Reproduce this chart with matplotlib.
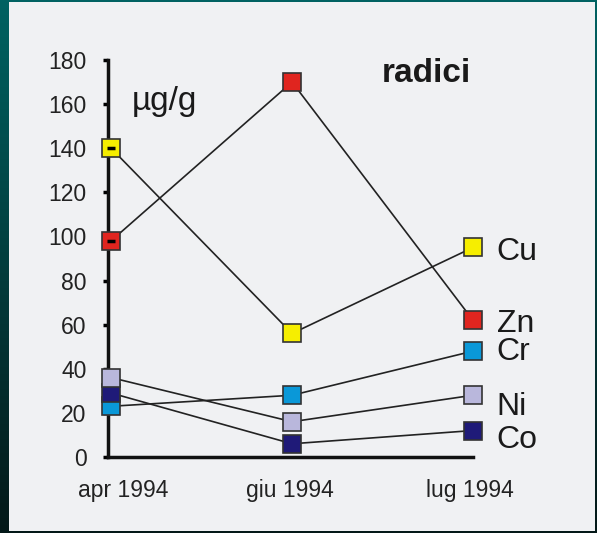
import numpy as np
import matplotlib
matplotlib.use("Agg")
import matplotlib.pyplot as plt
from matplotlib.patches import Rectangle

# data (µg/g)
months = ['apr 1994', 'giu 1994', 'lug 1994']
elements = ['Cu', 'Zn', 'Cr', 'Ni', 'Co']
cu = [140, 56, 95]
zn = [98, 170, 62]
cr = [23, 28, 48]
ni = [36, 16, 28]
co = [29, 6, 12]
colors = ['#f6ee00', '#e0251f', '#0a98d8', '#b9b7dc', '#1f1a78']
yticks = [0, 20, 40, 60, 80, 100, 120, 140, 160, 180]

plt.rcParams['font.family'] = ['Liberation Sans', 'DejaVu Sans']

#------------------------------------------------

fig = plt.figure(figsize=(5.97, 5.33), dpi=100)

# teal gradient frame + light panel
bg = fig.add_axes([0, 0, 1, 1], zorder=-10)
grad = np.linspace(0, 1, 256).reshape(-1, 1)
cmap = matplotlib.colors.LinearSegmentedColormap.from_list('frame', ['#006262', '#041818'])
bg.imshow(grad, cmap=cmap, aspect='auto', extent=[0, 1, 0, 1], origin='upper')
bg.add_patch(Rectangle((9 / 597, 2 / 533), 586 / 597, 529 / 533,
                       facecolor='#f0f1f3', edgecolor='none', transform=bg.transAxes))
bg.set_xlim(0, 1)
bg.set_ylim(0, 1)
bg.axis('off')

ax = fig.add_axes([108 / 597, 76 / 533, 365 / 597, 397 / 533])
ax.patch.set_alpha(0)

x = np.arange(len(months))
series = [cu, zn, cr, ni, co]
for i in [4, 3, 2, 1, 0]:
    ax.plot(x, series[i], color='#222222', lw=1.2, zorder=2)
# draw order so the stack at apr looks like the original
for i in [2, 4, 3, 1, 0]:
    ax.plot(x, series[i], ls='none', marker='s', ms=12.5, mfc=colors[i],
            mec='#333333', mew=1.2, zorder=3, clip_on=False)

# small dashes inside apr markers of Cu and Zn
ax.plot([0, 0], [cu[0], zn[0]], ls='none', marker='_', ms=6, mew=2.5,
        color='black', zorder=4, clip_on=False)

ax.set_xlim(-0.017, 2.0)
ax.set_ylim(0, 180)
ax.set_yticks(yticks)
ax.set_yticklabels([str(t) for t in yticks], fontsize=16.5, color='#222222')
ax.tick_params(axis='y', direction='out', length=3.5, width=2.5, pad=12)
ax.set_xticks([])

for s in ['top', 'right']:
    ax.spines[s].set_visible(False)
for s in ['left', 'bottom']:
    ax.spines[s].set_linewidth(2.5)
    ax.spines[s].set_color('#111111')

# x labels
label_x = [0.066, -0.01, -0.02]
for xi, lab, dx in zip(x, months, label_x):
    ax.text(xi + dx, -15, lab, ha='center', va='center', fontsize=16.5, color='#222222')

# element labels on the right
label_y = [93, 60.5, 47.5, 22.5, 7.5]
for el, ly in zip(elements, label_y):
    ax.text(2.13, ly, el, ha='left', va='center', fontsize=23, color='#1a1a1a', clip_on=False)

ax.text(0.116, 161, 'µg/g', ha='left', va='center', fontsize=24, color='#1a1a1a')
ax.text(1.497, 174, 'radici', ha='left', va='center', fontsize=24, fontweight='bold', color='#1a1a1a')

plt.savefig('out.png', dpi=100)
